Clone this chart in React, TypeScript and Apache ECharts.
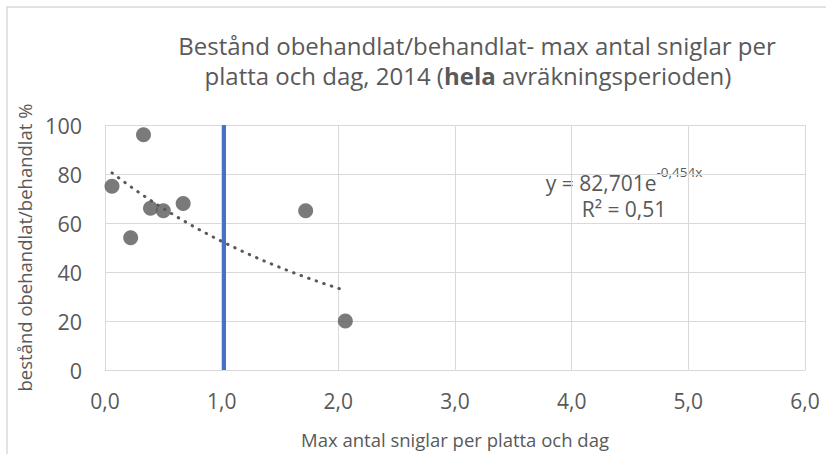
import React, { useEffect, useRef } from "react";
import * as echarts from "echarts";

const xValues = [0.06, 0.22, 0.33, 0.39, 0.5, 0.67, 1.72, 2.06];
const yValues = [75, 54, 96, 66, 65, 68, 65, 20];
const xTicks = ["0,0", "1,0", "2,0", "3,0", "4,0", "5,0", "6,0"];
const trendA = 82.701;
const trendB = -0.454;
const trendR2 = "0,51";
const refLineX = 1.02;
const refLineY = [0, 100];

const titleLine1 = "Bestånd obehandlat/behandlat- max antal sniglar per";
const titleLine2Parts = ["platta och dag, 2014 (", "hela", " avräkningsperioden)"];
const xAxisName = "Max antal sniglar per platta och dag";
const yAxisName = "bestånd obehandlat/behandlat %";

const FONT = "Open Sans";
const TXT = "#595959";

export default function App() {
  const ref = useRef<HTMLDivElement>(null);
  useEffect(() => {
    if (!ref.current) return;
    const chart = echarts.init(ref.current, undefined, { renderer: "svg" });
    const scatter = xValues.map((x, i) => [x, yValues[i]]);
    const xmin = Math.min(...xValues);
    const xmax = Math.max(...xValues);
    const trend: number[][] = [];
    const steps = 60;
    for (let i = 0; i <= steps; i++) {
      const x = xmin + ((xmax - xmin) * i) / steps;
      trend.push([x, trendA * Math.exp(trendB * x)]);
    }
    const fmt = (v: number) => v.toFixed(3).replace(".", ",");
    chart.setOption({
      animation: false,
      backgroundColor: "#ffffff",
      grid: { left: 105, right: 21, top: 125, bottom: 79, containLabel: false },
      xAxis: {
        type: "value",
        min: 0,
        max: 6,
        interval: 1,
        axisLine: { show: true, lineStyle: { color: "#D9D9D9", width: 1 } },
        axisTick: { show: false },
        splitLine: { show: true, lineStyle: { color: "#D9D9D9", width: 1 } },
        axisLabel: {
          color: TXT,
          fontFamily: FONT,
          fontSize: 21,
          margin: 20,
          formatter: (v: number) => xTicks[Math.round(v)] ?? "",
        },
        name: xAxisName,
        nameLocation: "middle",
        nameGap: 60,
        nameTextStyle: { color: TXT, fontFamily: FONT, fontSize: 18.5 },
      },
      yAxis: {
        type: "value",
        min: 0,
        max: 100,
        interval: 20,
        axisLine: { show: false },
        axisTick: { show: false },
        splitLine: { show: true, lineStyle: { color: "#D9D9D9", width: 1 } },
        axisLabel: { color: TXT, fontFamily: FONT, fontSize: 21.5, margin: 23 },
        name: yAxisName,
        nameLocation: "middle",
        nameGap: 63,
        nameTextStyle: { color: TXT, fontFamily: FONT, fontSize: 18.5 },
      },
      graphic: [
        {
          type: "rect",
          shape: { x: 7, y: 7, width: 1000, height: 1000 },
          style: { fill: "none", stroke: "#D9D9D9", lineWidth: 1.5 },
          silent: true,
          z: -1,
        },
        {
          type: "text",
          x: 477,
          y: 45,
          style: {
            text: titleLine1,
            fill: TXT,
            font: `24px "${FONT}"`,
            textAlign: "center",
            textVerticalAlign: "middle",
          },
        },
        {
          type: "text",
          x: 468,
          y: 75,
          style: {
            text: `{n|${titleLine2Parts[0]}}{b|${titleLine2Parts[1]}}{n|${titleLine2Parts[2]}}`,
            fill: TXT,
            textAlign: "center",
            textVerticalAlign: "middle",
            rich: {
              n: { fontFamily: FONT, fontSize: 24, fill: TXT },
              b: { fontFamily: FONT, fontSize: 24, fill: TXT, fontWeight: "bold" },
            },
          },
        },
        {
          type: "text",
          x: 624,
          y: 179,
          style: {
            text: `{n|y = ${fmt(trendA)}e}{s|${fmt(trendB)}x}`,
            fill: TXT,
            textAlign: "center",
            textVerticalAlign: "middle",
            rich: {
              n: { fontFamily: FONT, fontSize: 21, fill: TXT, verticalAlign: "bottom", lineHeight: 28 },
              s: { fontFamily: FONT, fontSize: 13.5, fill: TXT, verticalAlign: "top", lineHeight: 28, padding: [0, 0, 10, 0] },
            },
          },
        },
        {
          type: "text",
          x: 624,
          y: 209,
          style: {
            text: `R² = ${trendR2}`,
            fill: TXT,
            font: `21px "${FONT}"`,
            textAlign: "center",
            textVerticalAlign: "middle",
          },
        },
      ],
      series: [
        {
          type: "line",
          data: trend,
          showSymbol: false,
          symbol: "none",
          smooth: false,
          lineStyle: { color: TXT, width: 3, type: [0.5, 7.5], cap: "round" },
          z: 3,
        },
        {
          type: "line",
          data: [
            [refLineX, refLineY[0]],
            [refLineX, refLineY[1]],
          ],
          symbol: "none",
          lineStyle: { color: "#4472C4", width: 4 },
          z: 4,
        },
        {
          type: "scatter",
          data: scatter,
          symbol: "circle",
          symbolSize: 15,
          itemStyle: { color: TXT },
          z: 5,
        },
      ],
    });
    return () => chart.dispose();
  }, []);
  return (
    <div
      ref={ref}
      style={{ position: "absolute", left: 0, top: 0, width: 826, height: 454 }}
    />
  );
}
